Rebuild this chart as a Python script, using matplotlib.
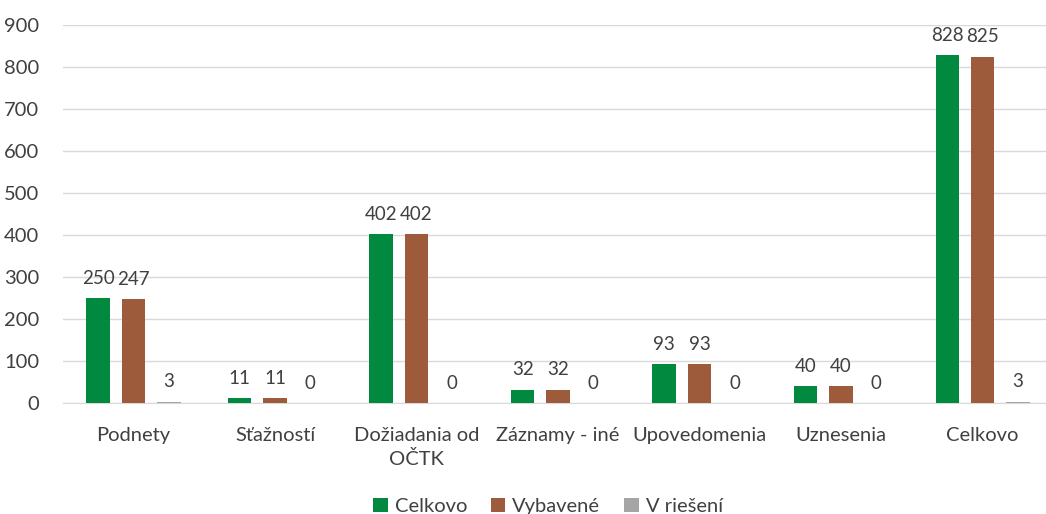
import numpy as np
import matplotlib.pyplot as plt

plt.rcParams['font.family'] = ['Lato', 'DejaVu Sans']

# kategórie a hodnoty
categories = ['Podnety', 'Sťažností', 'Dožiadania od\nOČTK', 'Záznamy - iné',
              'Upovedomenia', 'Uznesenia', 'Celkovo']
celkovo = [250, 11, 402, 32, 93, 40, 828]
vybavene = [247, 11, 402, 32, 93, 40, 825]
v_rieseni = [3, 0, 0, 0, 0, 0, 3]
series_names = ['Celkovo', 'Vybavené', 'V riešení']
colors = ['#00893F', '#9E5B3C', '#A5A5A5']
text_color = '#404040'
fs = 14.5

fig = plt.figure(figsize=(10.46, 5.14), dpi=100)
ax = fig.add_axes([0.06, 0.216, 0.947, 0.735])

x = np.arange(len(categories))
w = 0.165
series = [celkovo, vybavene, v_rieseni]
for i, vals in enumerate(series):
    pos = x + (i - 1) * 0.25
    bars = ax.bar(pos, vals, width=w, color=colors[i], label=series_names[i], zorder=3)
    for b, v in zip(bars, vals):
        ax.text(b.get_x() + b.get_width() / 2, v + 27, str(v), ha='center', va='bottom',
                fontsize=13.5, color=text_color)

ax.set_xlim(-0.5, len(categories) - 0.5)
ax.set_ylim(0, 900)
ax.set_yticks(range(0, 901, 100))
ax.set_xticks(x)
ax.set_xticklabels(categories, fontsize=fs, color=text_color, linespacing=1.45)
ax.tick_params(axis='y', labelsize=fs, labelcolor=text_color, length=0, pad=17)
ax.tick_params(axis='x', length=0, pad=17)
ax.grid(axis='y', color='#D9D9D9', linewidth=1, zorder=0)
for s in ['top', 'right', 'left']:
    ax.spines[s].set_visible(False)
ax.spines['bottom'].set_color('#D9D9D9')

ax.legend(loc='lower center', bbox_to_anchor=(0.49, -0.345), ncol=3, frameon=False,
          fontsize=fs, labelcolor=text_color, handlelength=0.7, handleheight=0.7,
          handletextpad=0.35, columnspacing=1.2)

fig.savefig('out.png', dpi=100)
